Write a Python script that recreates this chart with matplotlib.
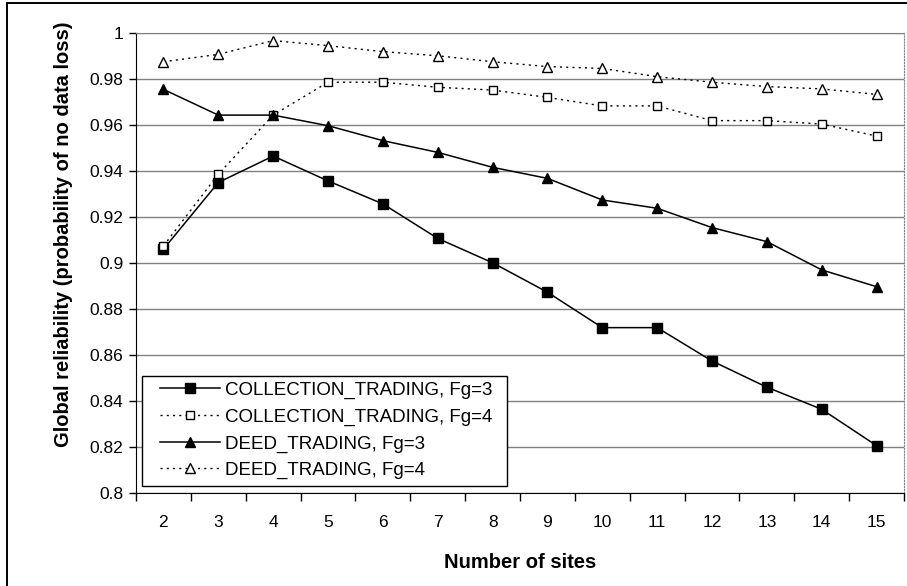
import matplotlib
matplotlib.use("Agg")
import matplotlib.pyplot as plt
from matplotlib.patches import Rectangle
from matplotlib.ticker import FuncFormatter, MultipleLocator

plt.rcParams["font.family"] = ["Liberation Sans", "DejaVu Sans"]

# number of sites on the x axis
sites = [2, 3, 4, 5, 6, 7, 8, 9, 10, 11, 12, 13, 14, 15]

# reliability values
coll_fg3 = [0.906, 0.935, 0.9465, 0.9357, 0.9257, 0.9107, 0.9001, 0.8873,
            0.8719, 0.8719, 0.8574, 0.846, 0.8364, 0.8206]
coll_fg4 = [0.9074, 0.9386, 0.9643, 0.9786, 0.9786, 0.9764, 0.9752, 0.972,
            0.9683, 0.9683, 0.9619, 0.9619, 0.9604, 0.9552]
deed_fg3 = [0.9755, 0.9643, 0.9643, 0.9597, 0.9532, 0.9481, 0.9416, 0.9368,
            0.9274, 0.9238, 0.9154, 0.9093, 0.897, 0.8897]
deed_fg4 = [0.9875, 0.9907, 0.9967, 0.9945, 0.9919, 0.9901, 0.9875, 0.9854,
            0.9846, 0.981, 0.9786, 0.9767, 0.9757, 0.9733]

labels = ["COLLECTION_TRADING, Fg=3", "COLLECTION_TRADING, Fg=4",
          "DEED_TRADING, Fg=3", "DEED_TRADING, Fg=4"]

W, H = 907, 586
fig = plt.figure(figsize=(W / 100, H / 100), dpi=100)
ax_l, ax_r, ax_t, ax_b = 136, 904, 33, 493
ax = fig.add_axes([ax_l / W, 1 - ax_b / H, (ax_r - ax_l) / W, (ax_b - ax_t) / H])

solid = dict(color="black", lw=1.1, linestyle="-")
dotted = dict(color="black", lw=1.0, linestyle=(0, (1.5, 3)))

ax.plot(sites, coll_fg3, marker="s", ms=7, mfc="black", mec="black", label=labels[0], zorder=3, **solid)
ax.plot(sites, coll_fg4, marker="s", ms=5.5, mfc="white", mec="black", mew=1.0, label=labels[1], zorder=3, **dotted)
ax.plot(sites, deed_fg3, marker="^", ms=7.5, mfc="black", mec="black", label=labels[2], zorder=3, **solid)
ax.plot(sites, deed_fg4, marker="^", ms=6.5, mfc="white", mec="black", mew=1.0, label=labels[3], zorder=3, **dotted)

ax.set_xlim(1.5, 15.5)
ax.set_ylim(0.8, 1.0)
ax.yaxis.set_major_locator(MultipleLocator(0.02))
ax.yaxis.set_major_formatter(FuncFormatter(lambda v, p: f"{round(v, 2):g}"))
ax.grid(axis="y", color="#808080", lw=1.0)
ax.set_axisbelow(True)

ax.set_xticks(sites)
ax.set_xticks([s - 0.5 for s in sites] + [15.5], minor=True)
ax.tick_params(axis="x", which="major", length=0, pad=16, labelsize=12.5)
ax.tick_params(axis="x", which="minor", length=6, width=1, direction="out")
ax.tick_params(axis="y", length=5, width=1, direction="out", pad=4, labelsize=12.5)

for s in ("top", "right"):
    ax.spines[s].set_color("#808080")
    ax.spines[s].set_linestyle(":")
ax.spines["left"].set_color("black")
ax.spines["bottom"].set_color("black")

ax.set_xlabel("Number of sites", fontsize=14.5, fontweight="bold", va="center")
ax.xaxis.set_label_coords(0.5, -0.15)
ax.set_ylabel("Global reliability (probability of no data loss)", fontsize=14.5,
              fontweight="bold", va="center")
ax.yaxis.set_label_coords(-0.094, 0.563)

# legend box drawn separately so the handles can sit inset from the frame
bx0, bx1, by0, by1 = 142, 507, 376, 486
ax.add_patch(Rectangle(((bx0 - ax_l) / (ax_r - ax_l), (ax_b - by1) / (ax_b - ax_t)),
                       (bx1 - bx0) / (ax_r - ax_l), (by1 - by0) / (ax_b - ax_t),
                       transform=ax.transAxes, facecolor="white", edgecolor="black",
                       lw=1.0, zorder=4))
leg = ax.legend(loc="lower left", bbox_to_anchor=(0.031, 0.030), frameon=False,
                fontsize=13.5, borderpad=0, borderaxespad=0, handlelength=3.2,
                handletextpad=0.27, labelspacing=0.5)
leg.set_zorder(5)

# outer chart border (left and top edges only are inside the crop)
fig.add_artist(Rectangle((7 / W, -0.5), 2, 0.5 + (1 - 3 / H), transform=fig.transFigure,
                         fill=False, edgecolor="black", lw=1.4))

fig.savefig("out.png", dpi=100)
